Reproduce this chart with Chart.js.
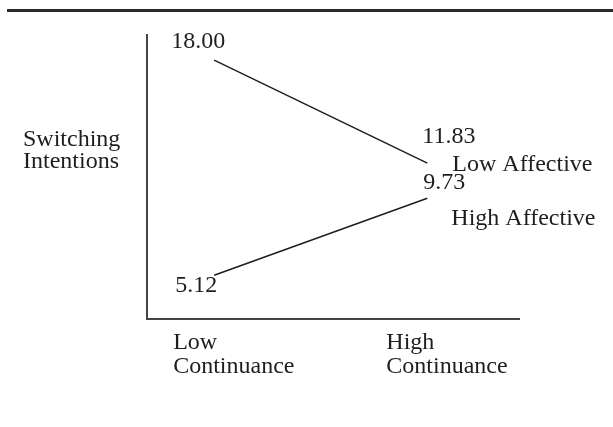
<!doctype html>
<html lang="en">
<head>
  <meta charset="utf-8">
  <title>Switching Intentions</title>
  <style>
    * {
      margin: 0;
      padding: 0;
    }
    body {
      background: white;
    }
    .chartBox {
      width: 613px;
      height: 427px;
      position: relative;
    }
  </style>
</head>
<body>
<div class="chartBox">
  <canvas id="myChart"></canvas>
</div>

<script src="https://cdn.jsdelivr.net/npm/chart.js"></script>
<script>
  // data
  const categories = [['Low', 'Continuance'], ['High', 'Continuance']];
  const seriesNames = ['Low Affective', 'High Affective'];
  const lowAffective = [18.00, 11.83];
  const highAffective = [5.12, 9.73];
  const yTitle = ['Switching', 'Intentions'];

  const serif = "'Liberation Serif', 'Times New Roman', serif";
  const ink = '#1e1e1e';

  // where the value labels sit relative to their point (left edge, baseline)
  const valueOffsets = [
    [[-43, -12], [-5, -20]],
    [[-39, 17], [-4, -9]]
  ];
  // series name next to the last point
  const nameOffsets = [[25, 8], [24, 27]];

  const annotate = {
    id: 'annotate',
    beforeDraw(chart) {
      const ctx = chart.ctx;
      ctx.save();
      ctx.fillStyle = 'white';
      ctx.fillRect(0, 0, chart.width, chart.height);
      // heavy rule across the top
      ctx.fillStyle = '#2a2a2a';
      ctx.fillRect(7, 9, chart.width - 7, 3);
      ctx.restore();
    },
    afterDatasetsDraw(chart) {
      const ctx = chart.ctx;
      const area = chart.chartArea;
      ctx.save();
      ctx.font = '24px ' + serif;
      ctx.fillStyle = ink;
      ctx.textAlign = 'left';
      ctx.textBaseline = 'alphabetic';
      chart.data.datasets.forEach((ds, i) => {
        const pts = chart.getDatasetMeta(i).data;
        pts.forEach((p, j) => {
          const off = valueOffsets[i][j];
          ctx.fillText(ds.data[j].y.toFixed(2), p.x + off[0], p.y + off[1]);
        });
        const last = pts[pts.length - 1];
        ctx.fillText(ds.label, last.x + nameOffsets[i][0], last.y + nameOffsets[i][1]);
      });
      // y axis title, written flat to the left of the axis
      yTitle.forEach((t, k) => ctx.fillText(t, 23, area.top + 111 + k * 22));
      ctx.restore();
    }
  };

  const data = {
    datasets: [{
      label: seriesNames[0],
      data: lowAffective.map((v, i) => ({ x: i, y: v })),
      borderColor: ink,
      borderWidth: 1.5,
      pointRadius: 0,
      tension: 0
    }, {
      label: seriesNames[1],
      data: highAffective.map((v, i) => ({ x: i, y: v })),
      borderColor: ink,
      borderWidth: 1.5,
      pointRadius: 0,
      tension: 0
    }]
  };

  const config = {
    type: 'line',
    data,
    options: {
      responsive: true,
      maintainAspectRatio: false,
      animation: false,
      layout: {
        padding: { left: 139, right: 94, top: 35, bottom: 45 }
      },
      scales: {
        x: {
          type: 'linear',
          min: -0.315,
          max: 1.43,
          afterBuildTicks: scale => {
            scale.ticks = categories.map((c, i) => ({ value: i }));
          },
          grid: { display: false },
          border: { display: true, color: '#444', width: 2 },
          ticks: {
            autoSkip: false,
            maxRotation: 0,
            align: 'start',
            labelOffset: -41,
            padding: 4,
            color: ink,
            font: { family: serif, size: 24, lineHeight: 0.98 },
            callback: v => categories[v]
          }
        },
        y: {
          min: 2.5,
          max: 19.5,
          grid: { display: false },
          border: { display: true, color: '#444', width: 2 },
          ticks: { display: false }
        }
      },
      plugins: {
        legend: { display: false },
        tooltip: { enabled: false }
      }
    },
    plugins: [annotate]
  };

  const myChart = new Chart(document.getElementById('myChart'), config);
</script>
</body>
</html>
